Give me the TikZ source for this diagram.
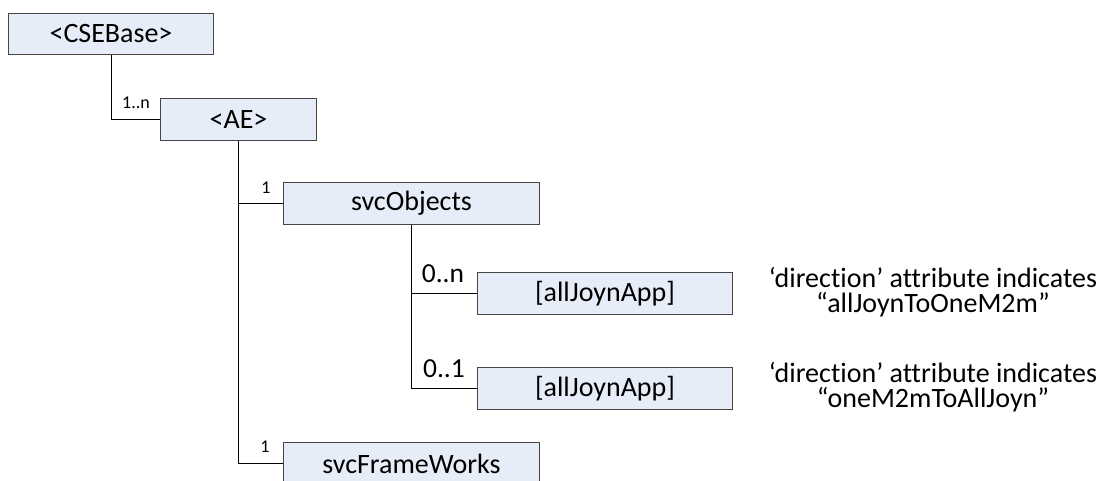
\documentclass[tikz,border=0pt]{standalone}
\usepackage{fontspec}
\setmainfont[Ligatures=NoCommon]{Carlito}
\usetikzlibrary{positioning}
\definecolor{boxfill}{RGB}{230,237,248}
\definecolor{boxline}{RGB}{70,70,70}
\tikzset{
  cls/.style={draw=boxline, line width=1pt, fill=boxfill, inner sep=0pt,
    font=\fontsize{28}{30}\selectfont, anchor=north west},
  conn/.style={draw=black, line width=0.9pt},
  mult/.style={font=\fontsize{18}{20}\selectfont, anchor=base, inner sep=0pt},
  multbig/.style={font=\fontsize{27.5}{30}\selectfont, anchor=base, inner sep=0pt},
  note/.style={font=\fontsize{28}{25}\selectfont, align=center, anchor=base, inner sep=0pt}
}
\begin{document}
\begin{tikzpicture}[x=1pt,y=-1pt]
\clip (0,0) rectangle (1106,480);
\fill[white] (0,0) rectangle (1106,480);
\node[cls, minimum width=205pt, minimum height=41pt] (cse) at (8,13) {<CSEBase>};
\node[cls, minimum width=156pt, minimum height=42pt] (ae) at (160,98) {<AE>};
\node[cls, minimum width=256pt, minimum height=42pt] (svc) at (283,182) {svcObjects};
\node[cls, minimum width=255pt, minimum height=42pt] (app1) at (477,272) {[allJoynApp]};
\node[cls, minimum width=255pt, minimum height=42pt] (app2) at (477,367) {[allJoynApp]};
\node[cls, minimum width=256pt, minimum height=42pt] (fw) at (283,442) {svcFrameWorks};
\draw[conn] ([xshift=103pt]cse.south west) |- (ae.west);
\draw[conn] (ae.south) |- (svc.west);
\draw[conn] (ae.south) |- (fw.west);
\draw[conn] (svc.south) |- (app1.west);
\draw[conn] (svc.south) |- (app2.west);
\node[mult] (m1) at (136,108) {1..n};
\node[mult] (m2) at (266,193) {1};
\node[mult] (m3) at (265,452) {1};
\node[multbig] (m4) at (443,282) {0..n};
\node[multbig] (m5) at (444,377) {0..1};
\node[note] (n1) at (933,312) {‘direction’ attribute indicates\\“allJoynToOneM2m”};
\node[note] (n2) at (933,407) {‘direction’ attribute indicates\\“oneM2mToAllJoyn”};
\end{tikzpicture}
\end{document}
